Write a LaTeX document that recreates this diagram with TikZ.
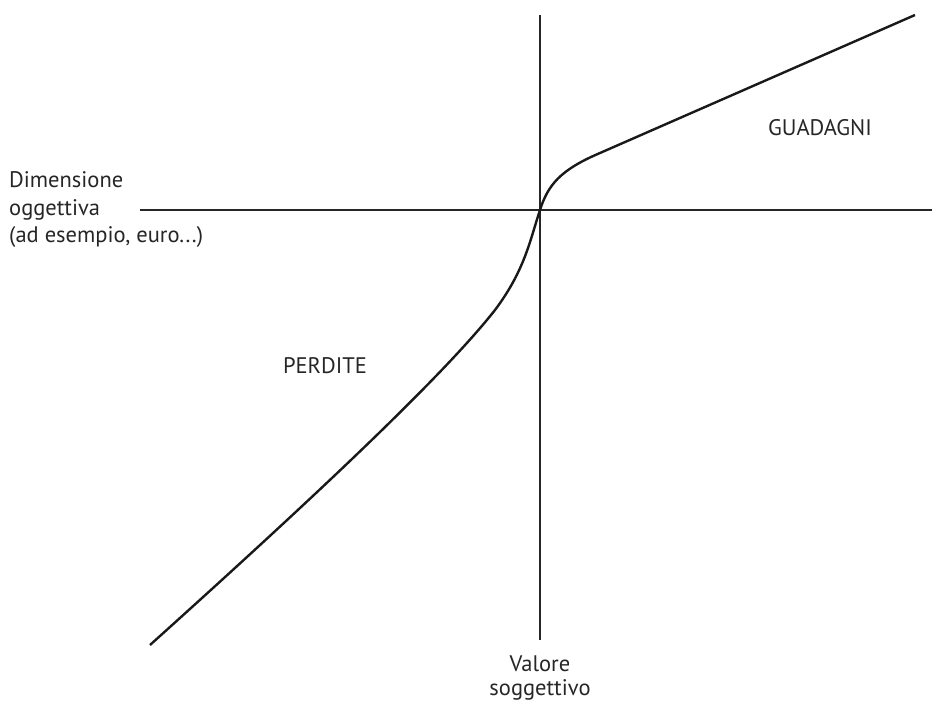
\documentclass[tikz,border=0pt]{standalone}
\usepackage{fontspec}
\setmainfont{PT Sans}
\usetikzlibrary{positioning}

\begin{document}
\begin{tikzpicture}[x=1pt, y=-1pt,
    axis/.style={line width=1.4pt, black!85},
    curve/.style={line width=2.4pt, black!90},
    lbl/.style={font=\fontsize{22.5}{27.5}\selectfont, text=black!85, inner sep=0pt}]
    \useasboundingbox (0,0) rectangle (932,704);
    % axes
    \coordinate (o) at (540,210);
    \coordinate (xl) at (140,210);
    \coordinate (xr) at (932,210);
    \coordinate (yt) at (540,15);
    \coordinate (yb) at (540,640);
    \draw[axis] (xl) -- (xr);
    \draw[axis] (yt) -- (yb);
    % value function
    \coordinate (lo) at (150,645);
    \coordinate (hi) at (915,15);
    \draw[curve] (lo) .. controls (300,510) and (440,380) .. (495,310)
        .. controls (525,270) and (530,240) .. (o)
        .. controls (548,185) and (560,170) .. (600,153) -- (hi);
    % labels
    \node[lbl, align=left, anchor=west] (dim) at (9,210)
        {Dimensione\\oggettiva\\(ad esempio, euro...)};
    \node[lbl, align=center, anchor=north, font=\fontsize{22.5}{24}\selectfont] (val) at (540,656)
        {Valore\\soggettivo};
    \node[lbl] (gain) at (820,128) {GUADAGNI};
    \node[lbl] (loss) at (325,366) {PERDITE};
\end{tikzpicture}
\end{document}
